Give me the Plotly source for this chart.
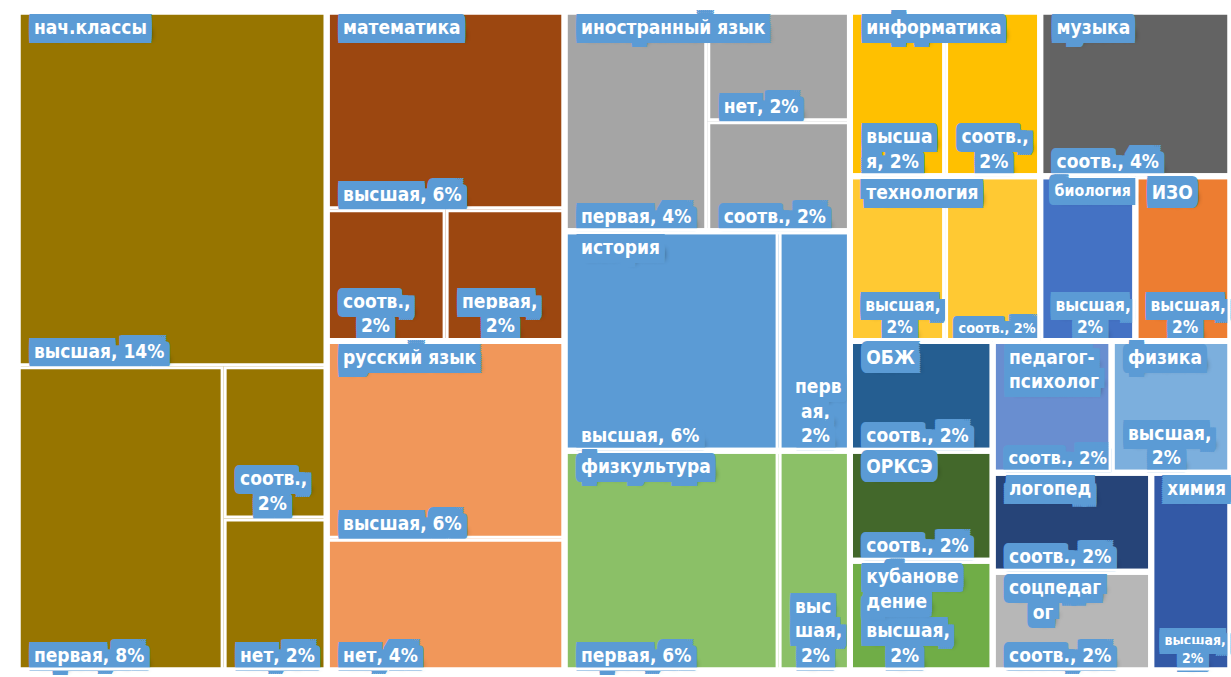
import plotly.graph_objects as go

# top level subjects (Excel order)
subjects = [
    "нач.классы", "математика", "русский язык", "иностранный язык", "история",
    "физкультура", "информатика", "музыка", "технология", "биология", "ИЗО",
    "ОБЖ", "ОРКСЭ", "кубановедение", "педагог-психолог", "физика", "логопед",
    "соцпедагог", "химия"
]
sp = "\u00a0"
subject_text = [
    "нач.классы", "математика", "русский язык", "иностранный язык", "история",
    "физкультура", "информатика", "музыка", "технология", "биология", "ИЗО",
    "ОБЖ", "ОРКСЭ", "кубанове<br>дение", "педагог-<br>психолог", "физика", "логопед",
    "соцпедаг<br>" + sp * 4 + "ог", "химия"
]
subject_colors = [
    "#977500", "#9C4710", "#F1975A", "#A5A5A5", "#5B9BD5",
    "#8BC067", "#FFC000", "#636363", "#FFC933", "#4472C4", "#ED7D31",
    "#255E91", "#43682B", "#70AD47", "#698ED0", "#7CAFDD", "#264478",
    "#B7B7B7", "#3359A6"
]

# leaves: subject, qualification level, number of teachers, label shown
leaf_subject = [
    "нач.классы", "нач.классы", "нач.классы", "нач.классы",
    "математика", "математика", "математика",
    "русский язык", "русский язык",
    "иностранный язык", "иностранный язык", "иностранный язык",
    "история", "история",
    "физкультура", "физкультура",
    "информатика", "информатика",
    "музыка",
    "технология", "технология",
    "биология", "ИЗО", "ОБЖ", "ОРКСЭ", "кубановедение", "педагог-психолог",
    "физика", "логопед", "соцпедагог", "химия"
]
leaf_level = [
    "высшая", "первая", "соотв.", "нет",
    "высшая", "соотв.", "первая",
    "высшая", "нет",
    "первая", "нет", "соотв.",
    "высшая", "первая",
    "первая", "высшая",
    "высшая", "соотв.",
    "соотв.",
    "высшая", "соотв.",
    "высшая", "высшая", "соотв.", "соотв.", "высшая", "соотв.",
    "высшая", "соотв.", "соотв.", "высшая"
]
leaf_count = [
    7, 4, 1, 1,
    3, 1, 1,
    3, 2,
    2, 1, 1,
    3, 1,
    3, 1,
    1, 1,
    2,
    1, 1,
    1, 1, 1, 1, 1, 1,
    1, 1, 1, 1
]
leaf_text = [
    "высшая, 14%", "первая, 8%", "соотв.,<br>" + sp * 3 + "2%", "нет, 2%",
    "высшая, 6%", "соотв.,<br>" + sp * 3 + "2%", "первая,<br>" + sp * 4 + "2%",
    "высшая, 6%", "нет, 4%",
    "первая, 4%", "нет, 2%", "соотв., 2%",
    "высшая, 6%", "перв<br>" + sp + "ая,<br>" + sp + "2%",
    "первая, 6%", "выс<br>шая,<br>" + sp + "2%",
    "высша<br>я, 2%", "соотв.,<br>" + sp * 3 + "2%",
    "соотв., 4%",
    "высшая,<br>" + sp * 4 + "2%", "соотв., 2%",
    "высшая,<br>" + sp * 4 + "2%", "высшая,<br>" + sp * 4 + "2%",
    "соотв., 2%", "соотв., 2%",
    "высшая,<br>" + sp * 4 + "2%", "соотв., 2%",
    "высшая,<br>" + sp * 4 + "2%", "соотв., 2%", "соотв., 2%",
    "высшая,<br>" + sp * 4 + "2%"
]


def inset(txt):
    # push every line of a label a little away from the tile edge
    return "<br>".join(sp * 2 + line for line in txt.split("<br>"))


totals = [sum(c for s, c in zip(leaf_subject, leaf_count) if s == subj) for subj in subjects]
color_of = dict(zip(subjects, subject_colors))

# fake Excel's blue label boxes with a stack of text shadows
box = ", ".join(f"{dx}px {dy}px 0 #5B9BD5" for dx in range(-6, 7, 2) for dy in range(-9, 10, 2))
label_shadow = box + ", 6px 6px 5px rgba(0,0,0,0.45)"
label_font = dict(family="DejaVu Sans Condensed, DejaVu Sans", size=19, color="white",
                  weight="bold", shadow=label_shadow)

ids = subjects + [f"{s}/{l}" for s, l in zip(leaf_subject, leaf_level)]
parents = [""] * len(subjects) + leaf_subject
labels = subjects + leaf_level
values = totals + leaf_count
colors = subject_colors + [color_of[s] for s in leaf_subject]
texts = [""] * len(subjects) + [inset(t) for t in leaf_text]

fig = go.Figure()
fig.add_trace(go.Treemap(
    ids=ids, labels=labels, parents=parents, values=values,
    branchvalues="total", sort=True,
    text=texts, texttemplate="%{text}", textposition="bottom left",
    textfont=label_font,
    marker=dict(colors=colors, line=dict(color="white", width=3),
                pad=dict(t=0, l=0, r=0, b=0)),
    tiling=dict(packing="squarify"),
    pathbar=dict(visible=False),
    hoverinfo="skip",
))
# second, transparent layer only for the subject names at the top left
fig.add_trace(go.Treemap(
    labels=subjects, parents=[""] * len(subjects), values=totals,
    sort=True,
    text=[inset(t) for t in subject_text], texttemplate="%{text}", textposition="top left",
    textfont=label_font,
    marker=dict(colors=["rgba(0,0,0,0)"] * len(subjects),
                line=dict(color="white", width=3),
                pad=dict(t=0, l=0, r=0, b=0)),
    tiling=dict(packing="squarify"),
    pathbar=dict(visible=False),
    hoverinfo="skip",
))

fig.update_layout(
    width=1231, height=677,
    margin=dict(l=19, r=2, t=13, b=8),
    paper_bgcolor="white",
    showlegend=False,
)
fig.write_html("out.html", config={"displayModeBar": False},
               post_script="document.body.style.margin='0';")
